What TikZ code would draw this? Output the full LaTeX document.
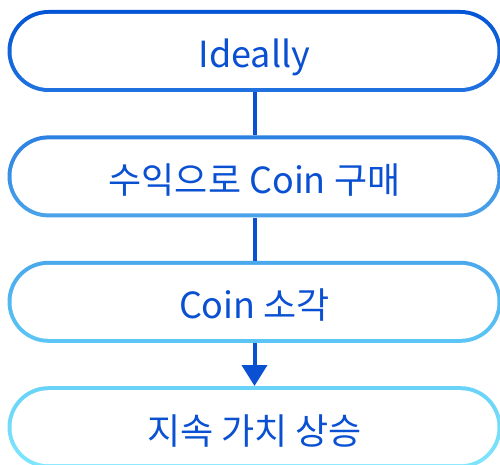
\documentclass[tikz,border=0pt]{standalone}
\usepackage{fontspec}
\setmainfont{Noto Sans CJK KR}
\usepackage{tikz}
\usetikzlibrary{arrows.meta, positioning, calc}

\definecolor{flowblue}{HTML}{0A50D2}
\definecolor{edgeA}{HTML}{0455D6}
\definecolor{edgeB}{HTML}{1F72DF}
\definecolor{edgeC}{HTML}{2C80E2}
\definecolor{edgeD}{HTML}{4AA3EA}
\definecolor{edgeE}{HTML}{4AA8EC}
\definecolor{edgeF}{HTML}{5CC6F5}
\definecolor{edgeG}{HTML}{68D2F8}
\definecolor{edgeH}{HTML}{80E6FD}

\begin{document}
\begin{tikzpicture}[
    x=1pt, y=1pt,
    font=\fontsize{36}{42}\selectfont,
    flow_box/.style 2 args={minimum width=494pt, minimum height=82pt, inner sep=0pt,
        text height=34pt, text depth=0pt,
        rounded corners=41pt, top color=#1, bottom color=#2, text=flowblue,
        path picture={\fill[white, rounded corners=37pt]
            ($(path picture bounding box.north west)+(4pt,-4pt)$) rectangle
            ($(path picture bounding box.south east)+(-4pt,4pt)$);}},
    link/.style={draw=flowblue, line width=4pt}
]

    \useasboundingbox (0,0) rectangle (500,464);

    % Boxes
    \node[flow_box={edgeA}{edgeB}] (ideal) at (254.5, 413) {Ideally};
    \node[flow_box={edgeC}{edgeD}, below=43pt of ideal] (buy) {수익으로 Coin 구매};
    \node[flow_box={edgeE}{edgeF}, below=43pt of buy] (burn) {Coin 소각};
    \node[flow_box={edgeG}{edgeH}, below=43pt of burn] (rise) {지속 가치 상승};

    % Links
    \draw[link] (ideal) -- (buy);
    \draw[link] (buy) -- (burn);
    \draw[link, -{Triangle[length=21pt, width=25pt]}] (burn) -- (rise);

\end{tikzpicture}
\end{document}
